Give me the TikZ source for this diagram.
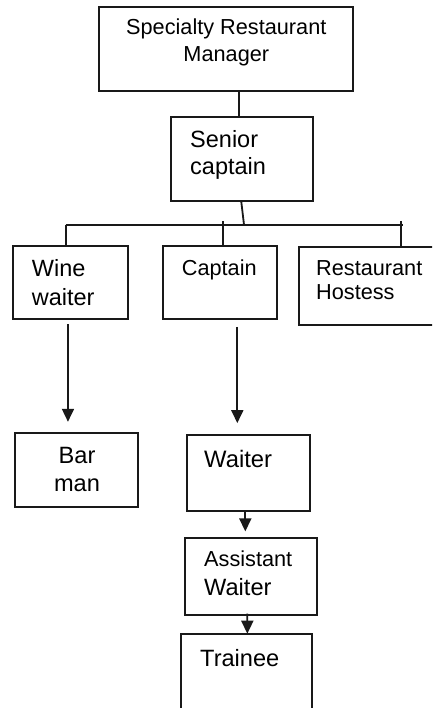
\documentclass[tikz,border=0pt]{standalone}
\usepackage{fontspec}
\setmainfont{Liberation Sans}
\usetikzlibrary{arrows.meta,calc}
\begin{document}
\begin{tikzpicture}[x=1pt,y=-1pt,
  box/.style={draw=black!90, line width=1.8pt, rectangle, inner sep=0pt},
  conn/.style={draw=black!90, line width=1.8pt},
  arr/.style={conn, -{Triangle[width=12pt,length=13pt]}},
  txt/.style={inner sep=0pt, anchor=base west, text=black},
  ctxt/.style={inner sep=0pt, anchor=base, text=black}]
\clip (0,0) rectangle (432,708);
% boxes
\node[box, minimum width=254pt, minimum height=84pt] (mgr) at (226.3,48.7) {};
\node[box, minimum width=142.3pt, minimum height=84.3pt] (sen) at (242.2,158.85) {};
\node[box, minimum width=114.4pt, minimum height=73.3pt] (wine) at (70.5,282.65) {};
\node[box, minimum width=114pt, minimum height=73.3pt] (cap) at (220.3,282.65) {};
\node[box, minimum width=146pt, minimum height=77.7pt] (host) at (372,286.15) {};
\node[box, minimum width=122.7pt, minimum height=74.6pt] (bar) at (76.65,470) {};
\node[box, minimum width=122.4pt, minimum height=76pt] (wai) at (248.5,472.7) {};
\node[box, minimum width=132pt, minimum height=76.7pt] (asst) at (251.3,576.65) {};
\node[box, minimum width=130.7pt, minimum height=90.7pt] (trn) at (246.35,679.65) {};
% labels
\node[ctxt] (tmgr) at (226.3,35) {\fontsize{21.7}{27}\selectfont\begin{tabular}[t]{@{}c@{}}Specialty Restaurant\\Manager\end{tabular}};
\node[txt] (tsen) at (190,148) {\fontsize{23.5}{27}\selectfont\begin{tabular}[t]{@{}l@{}}Senior\\captain\end{tabular}};
\node[txt] (twine) at (31.7,276.7) {\fontsize{23.5}{28.3}\selectfont\begin{tabular}[t]{@{}l@{}}Wine\\waiter\end{tabular}};
\node[txt] (tcap) at (181.7,275) {\fontsize{21.7}{26}\selectfont Captain};
\node[txt] (thost) at (316,275) {\fontsize{21.7}{24}\selectfont\begin{tabular}[t]{@{}l@{}}Restaurant\\Hostess\end{tabular}};
\node[ctxt] (tbar) at (77,463) {\fontsize{23.6}{28}\selectfont\begin{tabular}[t]{@{}c@{}}Bar\\man\end{tabular}};
\node[txt] (twai) at (204,467.7) {\fontsize{23.8}{28}\selectfont Waiter};
\node[txt] (tasst) at (204,566.7) {\fontsize{21.7}{28.3}\selectfont\begin{tabular}[t]{@{}l@{}}Assistant\\\fontsize{23.6}{28.3}\selectfont Waiter\end{tabular}};
\node[txt] (ttrn) at (200,666) {\fontsize{23.6}{28}\selectfont Trainee};
% connectors
\coordinate (busL) at (65.7,224.7);
\coordinate (busR) at (403,224.7);
\coordinate (busJ) at (244,224.7);
\coordinate (tick1) at (223.3,221.3);
\coordinate (tick2) at (401.2,221);
\draw[conn] ([xshift=13pt]mgr.south) -- ([xshift=13pt]mgr.south |- sen.north);
\draw[conn] ([xshift=-0.9pt]sen.south) -- (busJ);
\draw[conn] (busL) -- (busR);
\draw[conn] (busL) -- (busL |- wine.north);
\draw[conn] (tick1) -- (tick1 |- cap.north);
\draw[conn] (tick2) -- (tick2 |- host.north);
\draw[arr] ($(wine.south)+(-2.5,4)$) -- ($(bar.north)+(-8.7,-10)$);
\draw[arr] ($(cap.south)+(17,6.7)$) -- ($(wai.north)+(-11.2,-10.7)$);
\draw[arr] ($(wai.south)+(-3.2,0)$) -- ($(asst.north)+(-6,-6)$);
\draw[arr] ($(asst.south)+(-4,-2.3)$) -- ($(trn.north)+(1,0.3)$);
\end{tikzpicture}
\end{document}
